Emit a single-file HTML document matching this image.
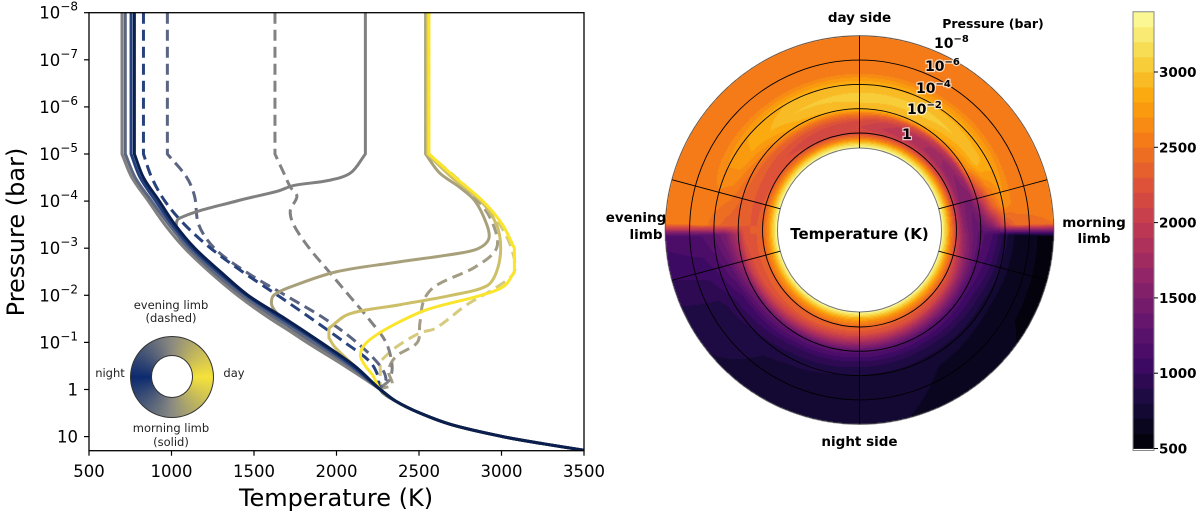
<!DOCTYPE html>
<html><head><meta charset="utf-8">
<style>
html,body{margin:0;padding:0;background:#fff;}
#wrap{position:relative;width:1200px;height:514px;overflow:hidden;font-family:"DejaVu Sans","Liberation Sans",sans-serif;}
canvas,svg{position:absolute;left:0;top:0;}
</style></head>
<body>
<div id="wrap">
<canvas id="heat" width="1200" height="514"></canvas>
<svg id="svg" width="1200" height="514" viewBox="0 0 1200 514"></svg>
</div>
<script>
// ---------- LEFT PLOT DATA ----------
const xTicks = [500,1000,1500,2000,2500,3000,3500];
const yTickExp = [-8,-7,-6,-5,-4,-3,-2,-1,0,1];
const tailLP = [0,0.25,0.5,0.75,1,1.15,1.29];
const tailT  = [2265,2360,2505,2700,3007,3250,3500];

const n1LP=[-8,-5,-4.5,-4,-3.5,-3,-2.5,-2,-1.5,-1,-0.5];
const n1T =[700,700,760,860,960,1080,1230,1400,1600,1830,2060];
const n2T =[720,720,780,880,985,1105,1255,1430,1640,1860,2080];
const n3T =[755,755,810,905,1005,1125,1280,1455,1670,1890,2095];
const n4T =[775,775,830,926,1021,1141,1297,1464,1691,1906,2110];

const gLP=[-8,-5,-4.6,-4.44,-4.33,-4.21,-4.01,-3.63,-3.38,-3,-2.5,-2,-1.5,-1,-0.5];
const gT =[2175,2175,2086,1954,1739,1643,1404,1045,1033,1090,1240,1410,1610,1820,2050];

const k1LP=[-8,-5,-4.6,-4.3,-4,-3.5,-3.2,-3,-2.9,-2.7,-2.5,-2.2,-2,-1.8,-1.6,-1.3,-1,-0.5];
const k1T =[2540,2540,2624,2744,2840,2911,2923,2864,2757,2361,2000,1739,1620,1607,1643,1720,1840,2070];
const k2LP=[-8,-5,-4.5,-4,-3.5,-3,-2.5,-2.2,-2,-1.8,-1.6,-1.3,-1.1,-0.9,-0.5];
const k2T =[2550,2550,2700,2875,2970,2995,2970,2911,2696,2385,2074,1954,1954,1990,2110];
const yLP=[-8,-5,-4.5,-4,-3.5,-3,-2.5,-2.2,-2,-1.7,-1.4,-1.1,-0.9,-0.7,-0.5,-0.3];
const yT =[2560,2560,2720,2887,3006,3078,3078,3018,2875,2552,2361,2218,2160,2146,2175,2220];

const d1LP=[-8,-5,-4.5,-4,-3.5,-3,-2.5,-2,-1.5,-1,-0.6,-0.3];
const d1T =[830,830,880,960,1080,1237,1430,1643,1850,2050,2200,2250];
const d2LP=[-8,-5,-4.5,-4.1,-3.5,-3,-2.5,-2,-1.5,-1,-0.5,-0.2];
const d2T =[975,975,1093,1140,1165,1260,1450,1690,1930,2122,2265,2300];
const d3LP=[-8,-5,-4.6,-4.3,-4.1,-3.8,-3.5,-3,-2.5,-2,-1.5,-1,-0.5,-0.2];
const d3T =[1627,1627,1680,1720,1760,1720,1740,1835,1955,2075,2195,2300,2337,2320];
const d4LP=[-8,-5,-4,-3.5,-3,-2.6,-2.2,-1.9,-1.4,-1,-0.7,-0.4,-0.1];
const d4T =[2550,2550,2860,2950,2970,2840,2600,2530,2505,2490,2360,2315,2337];
const d5LP=[-8,-5,-4,-3.5,-3,-2.5,-2.2,-1.8,-1.3,-1.2,-0.9,-0.6,-0.3];
const d5T =[2560,2560,2880,2990,3060,3078,2983,2790,2600,2505,2361,2265,2265];

// ---------- POLAR MAP DATA ----------
const thetaGrid=[0,30,60,80,88,92,120,150,180,210,240,268,272,300,330,360];
const lpGrid=[-8,-5,-4,-3,-2,-1.5,-1,-0.5,0,0.5,0.8,1.23];
const tempGrid=[
 [2550,2560,2900,3050,2950,2500,2200,2100,2150,2600,3000,3400],
 [2550,2560,2880,3050,2900,2200,1900,1850,2100,2600,3000,3400],
 [2550,2560,2850,2950,2600,1800,1600,1650,2000,2600,3000,3400],
 [2550,2550,2700,2300,1600,1400,1450,1600,2000,2600,3000,3400],
 [2500,2450,2200,1600,1350,1350,1450,1650,2050,2600,3000,3400],
 [560,650,850,1100,1250,1350,1500,1700,2100,2600,3000,3400],
 [580,630,750,950,1150,1400,1700,2050,2300,2700,3000,3400],
 [680,700,770,920,1200,1500,1850,2200,2350,2700,3000,3400],
 [720,740,790,950,1250,1600,1950,2250,2400,2700,3000,3400],
 [760,780,830,1000,1300,1700,2050,2300,2400,2700,3000,3400],
 [820,860,950,1100,1450,1900,2200,2300,2400,2700,3000,3400],
 [1150,1200,1300,1500,1900,2250,2300,2300,2350,2700,3000,3400],
 [2550,2550,2450,2350,2300,2300,2300,2300,2350,2700,3000,3400],
 [2550,2560,2750,2750,2500,2350,2300,2250,2300,2650,3000,3400],
 [2550,2560,2900,3000,2850,2450,2250,2150,2200,2600,3000,3400],
 [2550,2560,2900,3050,2950,2500,2200,2100,2150,2600,3000,3400]
];
const cbTicks=[500,1000,1500,2000,2500,3000];
const pLabelExp=["−8","−6","−4","−2",""];

// ---------- helpers ----------
const NS="http://www.w3.org/2000/svg";
const svg=document.getElementById('svg');
function mk(tag,attrs,parent){const e=document.createElementNS(NS,tag);for(const k in attrs)e.setAttribute(k,attrs[k]);(parent||svg).appendChild(e);return e;}
const X0=89,X1=584,YT=12.7,YB=450.7,DEC=47.1;
const xS=t=>X0+(t-500)*(X1-X0)/3000;
const yS=lp=>YT+(lp+8)*DEC;
const dist=(a,b)=>Math.hypot(a[0]-b[0],a[1]-b[1]);
function crPath(pts){
  let d="M"+pts[0][0].toFixed(2)+","+pts[0][1].toFixed(2);
  const n=pts.length;
  const vert=(a,b)=>Math.abs(a[0]-b[0])<0.01;
  for(let i=0;i<n-1;i++){
    const p0=pts[Math.max(i-1,0)],p1=pts[i],p2=pts[i+1],p3=pts[Math.min(i+2,n-1)];
    if(vert(p1,p2)){d+="L"+p2[0].toFixed(2)+","+p2[1].toFixed(2);continue;}
    const d01=dist(p0,p1),d12=dist(p1,p2),d23=dist(p2,p3);
    let c1,c2;
    if(i===0||vert(p0,p1)){c1=[p1[0]+(p2[0]-p1[0])/3,p1[1]+(p2[1]-p1[1])/3];}
    else{const f1=d12/(d01+d12)/3;c1=[p1[0]+(p2[0]-p0[0])*f1,p1[1]+(p2[1]-p0[1])*f1];}
    if(i+2>n-1||vert(p2,p3)){c2=[p2[0]-(p2[0]-p1[0])/3,p2[1]-(p2[1]-p1[1])/3];}
    else{const f2=d12/(d12+d23)/3;c2=[p2[0]-(p3[0]-p1[0])*f2,p2[1]-(p3[1]-p1[1])*f2];}
    d+="C"+c1[0].toFixed(2)+","+c1[1].toFixed(2)+" "+c2[0].toFixed(2)+","+c2[1].toFixed(2)+" "+p2[0].toFixed(2)+","+p2[1].toFixed(2);
  }
  return d;
}
const infernoStops=[[0,0,0,4],[0.1,22,11,57],[0.2,66,10,104],[0.3,106,23,110],[0.4,147,38,103],[0.5,188,55,84],[0.6,221,81,58],[0.7,243,120,25],[0.8,252,165,10],[0.9,246,215,70],[1,252,255,164]];
function inferno(v){v=Math.max(0,Math.min(1,v));for(let i=1;i<infernoStops.length;i++){if(v<=infernoStops[i][0]){const a=infernoStops[i-1],b=infernoStops[i];const f=(v-a[0])/(b[0]-a[0]);return [0,1,2].map(k=>Math.round(a[k+1]+(b[k+1]-a[k+1])*f));}}return [252,255,164];}
const VMIN=500,VMAX=3400;
function bandColor(T){let lv=Math.floor((T-VMIN)/100)*100+VMIN;lv=Math.max(VMIN,Math.min(VMAX-100,lv));return inferno((lv+50-VMIN)/(VMAX-VMIN));}

// ---------- LEFT PLOT ----------
const left=mk('g',{});


const defs=mk('defs',{});
const cp=mk('clipPath',{id:'clipL'},defs);
mk('rect',{x:X0,y:YT,width:X1-X0,height:YB-YT},cp);
const curves=mk('g',{'clip-path':'url(#clipL)'},left);


function drawProfile(lp,T,color,dashed,name){
  const pts=[];
  for(let i=0;i<lp.length;i++)pts.push([xS(T[i]),yS(lp[i])]);
  for(let i=0;i<tailLP.length;i++){if(tailLP[i]>lp[lp.length-1])pts.push([xS(tailT[i]),yS(tailLP[i])]);}
  const p=mk('path',{d:crPath(pts),fill:'none',stroke:color,'stroke-width':3,'stroke-linejoin':'round'},curves);
  if(dashed)p.setAttribute('stroke-dasharray','11,6');
  
  
}
drawProfile(d5LP,d5T,'#d6ca7c',true,'evening-profile-day');
drawProfile(d4LP,d4T,'#a39c84',true,'evening-profile-dayside');
drawProfile(d3LP,d3T,'#828282',true,'evening-profile-mid');
drawProfile(d2LP,d2T,'#5b6582',true,'evening-profile-nightside');
drawProfile(d1LP,d1T,'#27427c',true,'evening-profile-night');
drawProfile(gLP,gT,'#808080',false,'morning-profile-mid');
drawProfile(k1LP,k1T,'#a8a07a',false,'morning-profile-dayside');
drawProfile(k2LP,k2T,'#cdbf68',false,'morning-profile-near-day');
drawProfile(yLP,yT,'#fbe52c',false,'morning-profile-day');
drawProfile(n1LP,n1T,'#808080',false,'morning-profile-night-1');
drawProfile(n1LP,n2T,'#5c6680',false,'morning-profile-night-2');
drawProfile(n1LP,n3T,'#23407e',false,'morning-profile-night-3');
drawProfile(n1LP,n4T,'#0b1f4e',false,'morning-profile-night-4');

const frame=mk('rect',{x:X0,y:YT,width:X1-X0,height:YB-YT,fill:'none',stroke:'#000','stroke-width':1.3},left);


xTicks.forEach(t=>{
  const x=xS(t);
  const tk=mk('line',{x1:x,x2:x,y1:YB,y2:YB+5,stroke:'#000','stroke-width':1.2},left);
  
  
  const tl=mk('text',{x:x,y:477,'text-anchor':'middle','font-size':16.5,fill:'#000'},left);
  tl.textContent=String(t);
  
  
});
yTickExp.forEach(e=>{
  const y=yS(e);
  const tk=mk('line',{x1:X0-5,x2:X0,y1:y,y2:y,stroke:'#000','stroke-width':1.2},left);
  
  
  const tl=mk('text',{x:78,y:y+6,'text-anchor':'end','font-size':16.5,fill:'#000'},left);
  
  
  if(e===0){tl.textContent='1';}
  else if(e===1){tl.textContent='10';}
  else{
    const a=mk('tspan',{},tl);a.textContent='10';
    const b=mk('tspan',{dy:-8,'font-size':12},tl);b.textContent=String(e).replace('-','−');
  }
});
const yt=mk('text',{x:0,y:0,'text-anchor':'middle','font-size':24,transform:'translate(24,232) rotate(-90)',fill:'#000'},left);
yt.textContent='Pressure (bar)';


const xt=mk('text',{x:336,y:506,'text-anchor':'middle','font-size':24,fill:'#000'},left);
xt.textContent='Temperature (K)';



// inset legend donut
const leg=mk('g',{},left);


const fo=mk('foreignObject',{x:129,y:335,width:86,height:84},leg);
const dv=document.createElement('div');
dv.style.cssText='width:84px;height:82px;margin:1px;border-radius:50%;background:conic-gradient(from 0deg,#8c8a80 0deg,#f6e23a 90deg,#8a8a82 180deg,#0c2a6e 270deg,#8c8a80 360deg);box-sizing:border-box;border:1px solid #333;position:relative;';
const hole=document.createElement('div');
hole.style.cssText='position:absolute;left:20px;top:18px;width:42px;height:43px;border-radius:50%;background:#fff;border:1px solid #333;box-sizing:border-box;';
dv.appendChild(hole);fo.appendChild(dv);
[['evening limb',171,309,'legend-evening-label'],['(dashed)',171,322,'legend-dashed-label'],['night',110,377,'legend-night-label'],['day',234,377,'legend-day-label'],['morning limb',171,432,'legend-morning-label'],['(solid)',171,446,'legend-solid-label']].forEach(a=>{
  const t=mk('text',{x:a[1],y:a[2],'text-anchor':'middle','font-size':11.5,fill:'#222'},leg);
  t.textContent=a[0];
  
  
});

// ---------- POLAR MAP ----------
const CX=859.5,CY=230,R_IN=82,R_OUT=194.3,R0=97,PERDEC=12.15;
function interp1(arr,v){let i=0;while(i<arr.length-2&&v>arr[i+1])i++;const f=(v-arr[i])/(arr[i+1]-arr[i]);return [i,Math.max(0,Math.min(1,f))];}
function tempAt(th,lp){
  const [i,fi]=interp1(thetaGrid,th);const [j,fj]=interp1(lpGrid,lp);
  const a=tempGrid[i][j]*(1-fj)+tempGrid[i][j+1]*fj;
  const b=tempGrid[i+1][j]*(1-fj)+tempGrid[i+1][j+1]*fj;
  return a*(1-fi)+b*fi;
}
const cv=document.getElementById('heat');const ctx=cv.getContext('2d');
const x0=Math.floor(CX-R_OUT-1),y0=Math.floor(CY-R_OUT-1),W=Math.ceil(2*R_OUT+3);
const img=ctx.createImageData(W,W);
for(let py=0;py<W;py++)for(let px=0;px<W;px++){
  const dx=x0+px+0.5-CX,dy=y0+py+0.5-CY;const r=Math.hypot(dx,dy);
  if(r<R_IN||r>R_OUT)continue;
  let th=Math.atan2(dx,-dy)*180/Math.PI;if(th<0)th+=360;
  const lp=(R0-r)/PERDEC;
  const c=bandColor(tempAt(th,lp));
  const k=(py*W+px)*4;img.data[k]=c[0];img.data[k+1]=c[1];img.data[k+2]=c[2];img.data[k+3]=255;
}
ctx.putImageData(img,x0,y0);

const pol=mk('g',{});


[0,-2,-4,-6].forEach(e=>{
  const c=mk('circle',{cx:CX,cy:CY,r:R0-e*PERDEC,fill:'none',stroke:'#000','stroke-width':0.9},pol);
  
  
});
const oc=mk('circle',{cx:CX,cy:CY,r:R_OUT,fill:'none',stroke:'#555','stroke-width':0.8},pol);


const ic=mk('circle',{cx:CX,cy:CY,r:R_IN,fill:'#fff',stroke:'#777','stroke-width':1},pol);


[0,75,105,180,255,285].forEach(a=>{
  const t=a*Math.PI/180,s=Math.sin(t),c=-Math.cos(t);
  const l=mk('line',{x1:CX+R_IN*s,y1:CY+R_IN*c,x2:CX+R_OUT*s,y2:CY+R_OUT*c,stroke:'#000','stroke-width':0.9},pol);
  
  
});
function btext(txt,x,y,size,name,anchor){
  const t=mk('text',{x:x,y:y,'text-anchor':anchor||'middle','font-size':size,'font-weight':'bold',fill:'#000'},pol);
  t.textContent=txt;
  
  
  return t;
}
btext('day side',CX,22,13.5,'day-side-label');
btext('night side',CX,446,13.5,'night-side-label');
btext('evening',636,222,13.5,'evening-limb-label');
btext('limb',646,239,13.5,'evening-limb-label-2');
btext('morning',1094,227,13.5,'morning-limb-label');
btext('limb',1094,243,13.5,'morning-limb-label-2');
btext('Temperature (K)',CX,239,15,'polar-center-title');
btext('Pressure (bar)',993,28,12.5,'polar-pressure-title');
const plPos=[[934,48],[925,71],[916,93],[907,114],[902,139]];
pLabelExp.forEach((e,i)=>{
  const t=mk('text',{x:plPos[i][0],y:plPos[i][1],'font-size':14,'font-weight':'bold',fill:'#000',stroke:'#fff','stroke-opacity':0.7,'stroke-width':2.5,'paint-order':'stroke'},pol);
  
  
  const a=mk('tspan',{},t);a.textContent=e===''?'1':'10';
  if(e!==''){const b=mk('tspan',{dy:-6,'font-size':10},t);b.textContent=e;}
});

// ---------- COLORBAR ----------
const cb=mk('g',{});


const CBX=1133,CBW=21;
const cbY=v=>448.5-(v-500)*0.1506;
for(let lv=VMIN;lv<VMAX;lv+=100){
  const c=inferno((lv+50-VMIN)/(VMAX-VMIN));
  const r=mk('rect',{x:CBX,y:cbY(lv+100),width:CBW,height:cbY(lv)-cbY(lv+100)+0.4,fill:`rgb(${c[0]},${c[1]},${c[2]})`},cb);
  
  
}
mk('rect',{x:CBX,y:cbY(VMAX),width:CBW,height:cbY(VMIN)-cbY(VMAX)+2,fill:'none',stroke:'#888','stroke-width':1},cb);
cbTicks.forEach(v=>{
  const y=cbY(v);
  mk('line',{x1:CBX+CBW,x2:CBX+CBW+4,y1:y,y2:y,stroke:'#000','stroke-width':1},cb);
  const t=mk('text',{x:1159,y:y+5,'font-size':13.5,'font-weight':'bold',fill:'#000'},cb);
  t.textContent=String(v);
  
  
});
</script>
</body></html>
